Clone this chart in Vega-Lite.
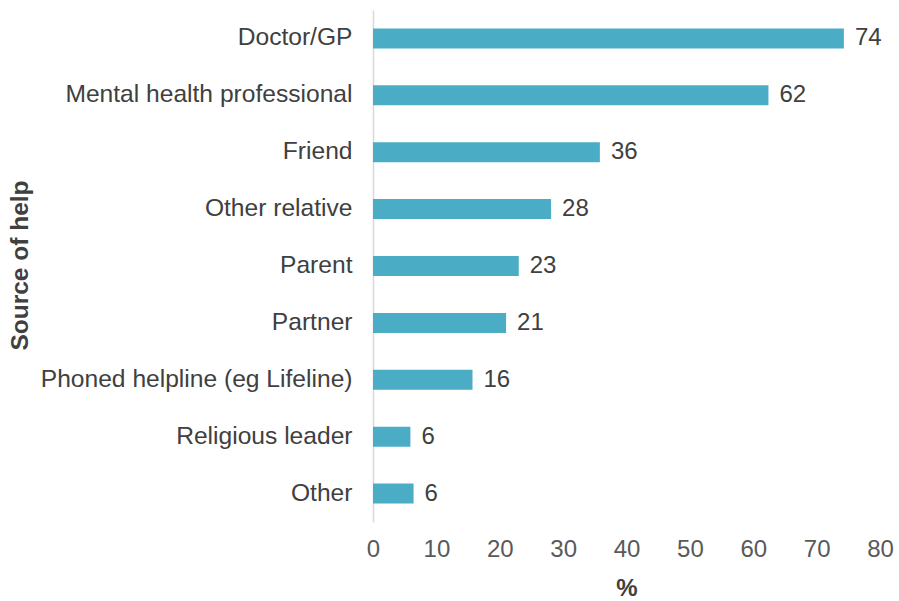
{
  "$schema": "https://vega.github.io/schema/vega-lite/v6.json",
  "width": 507,
  "height": 512,
  "autosize": {"type": "none"},
  "padding": {"left": 373, "top": 10, "right": 19, "bottom": 79},
  "background": "white",
  "config": {
    "view": {"stroke": null},
    "font": "Liberation Sans"
  },
  "data": {
    "values": [
      {"source": "Doctor/GP", "pct": 74.3},
      {"source": "Mental health professional", "pct": 62.4},
      {"source": "Friend", "pct": 35.8},
      {"source": "Other relative", "pct": 28.1},
      {"source": "Parent", "pct": 23.0},
      {"source": "Partner", "pct": 21.0},
      {"source": "Phoned helpline (eg Lifeline)", "pct": 15.7},
      {"source": "Religious leader", "pct": 5.9},
      {"source": "Other", "pct": 6.4}
    ]
  },
  "encoding": {
    "y": {
      "field": "source",
      "type": "nominal",
      "sort": null,
      "scale": {"padding": 0},
      "axis": {
        "title": "Source of help",
        "titleFontSize": 24.5,
        "titleFontWeight": "bold",
        "titleColor": "#404040",
        "titleX": -353,
        "titleY": 255,
        "titleAngle": -90,
        "titleAlign": "center",
        "titleBaseline": "middle",
        "labelFontSize": 24.6,
        "labelColor": "#404040",
        "labelPadding": 21,
        "labelLimit": 400,
        "ticks": false,
        "domain": true,
        "domainColor": "#d9d9d9",
        "domainWidth": 1.5,
        "grid": false
      }
    }
  },
  "layer": [
    {
      "mark": {"type": "bar", "color": "#4BACC6", "size": 20},
      "encoding": {
        "x": {
          "field": "pct",
          "type": "quantitative",
          "scale": {"domain": [0, 80], "nice": false},
          "axis": {
            "title": "%",
            "titleFontSize": 24,
            "titleFontWeight": "bold",
            "titleColor": "#404040",
            "titlePadding": 15,
            "values": [0, 10, 20, 30, 40, 50, 60, 70, 80],
            "labelFontSize": 24,
            "labelColor": "#595959",
            "labelPadding": 15,
            "labelFlush": false,
            "ticks": false,
            "domain": false,
            "grid": false
          }
        }
      }
    },
    {
      "mark": {"type": "text", "align": "left", "baseline": "middle", "dx": 11, "fontSize": 24, "color": "#404040"},
      "encoding": {
        "x": {"field": "pct", "type": "quantitative"},
        "text": {"field": "pct", "type": "quantitative", "format": ".0f"}
      }
    }
  ]
}
